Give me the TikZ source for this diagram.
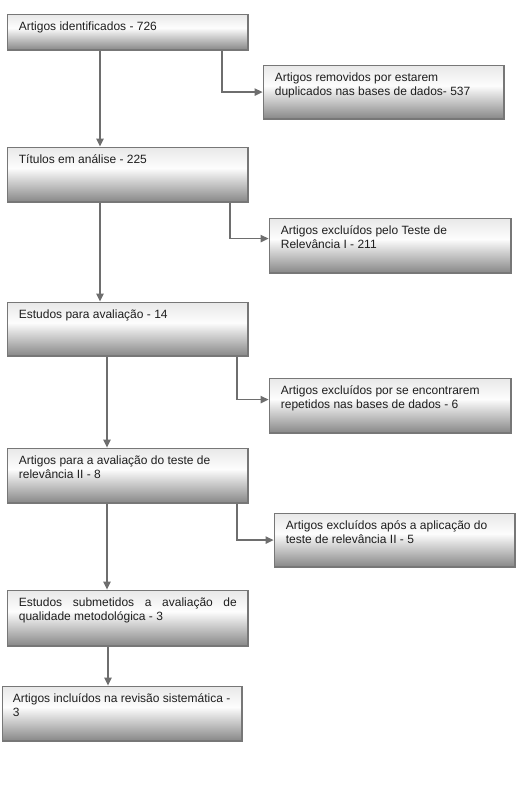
\documentclass[tikz,border=0pt]{standalone}
\usepackage{fontspec}
\setmainfont{Liberation Sans}
\usetikzlibrary{arrows.meta}
\definecolor{shtop}{HTML}{E8E8E8}
\definecolor{shmid}{HTML}{FDFDFD}
\definecolor{shbot}{HTML}{878787}
\definecolor{edge}{HTML}{777777}
\definecolor{conn}{HTML}{6E6E6E}
\definecolor{txt}{HTML}{1E1E1E}
\pgfdeclareverticalshading{boxshade}{100bp}{color(0bp)=(shbot); color(25bp)=(shbot); color(56bp)=(shmid); color(75bp)=(shtop); color(100bp)=(shtop)}
\tikzset{
  boxrect/.style={draw=edge, line width=0.9pt, shading=boxshade},
  boxtext/.style={anchor=north west, inner sep=0pt, align=left, text=txt,
    font=\fontsize{9}{10.5}\selectfont},
  arr/.style={draw=conn, line width=1.1pt, -{Triangle[length=6pt,width=5.5pt]}}
}
\newcommand{\mkbox}[5]{%
  \node[boxrect, anchor=north west, inner sep=0pt,
        minimum width=#3*0.75pt-0.9pt, minimum height=#4*0.75pt-0.9pt]
        (#5) at (#1*0.75pt+0.45pt,-#2*0.75pt-0.45pt) {};}
\begin{document}
\begin{tikzpicture}[x=0.75pt,y=-0.75pt]
\useasboundingbox (0,0) rectangle (516,787);
% boxes: x, y, w, h
\mkbox{6}{13}{242}{37}{b1}
\mkbox{262}{64}{242}{55}{b2}
\mkbox{6}{146}{242}{56}{b3}
\mkbox{268}{217}{243}{56}{b4}
\mkbox{6}{301}{242}{55}{b5}
\mkbox{268}{377}{243}{56}{b6}
\mkbox{6}{447}{242}{56}{b7}
\mkbox{273}{512}{242}{55}{b8}
\mkbox{6}{589}{242}{57}{b9}
\mkbox{1}{685}{241}{56}{b10}
% texts
\node[boxtext] (t1) at ([shift={(12,7.2)}]b1.north west) {\strut Artigos identificados - 726};
\node[boxtext] (t2) at ([shift={(12,7.2)}]b2.north west) {\strut Artigos removidos por estarem\\duplicados nas bases de dados- 537};
\node[boxtext] (t3) at ([shift={(12,7.2)}]b3.north west) {\strut Títulos em análise - 225};
\node[boxtext] (t4) at ([shift={(12,7.2)}]b4.north west) {\strut Artigos excluídos pelo Teste de\\Relevância I - 211};
\node[boxtext] (t5) at ([shift={(12,7.2)}]b5.north west) {\strut Estudos para avaliação - 14};
\node[boxtext] (t6) at ([shift={(12,7.2)}]b6.north west) {\strut Artigos excluídos por se encontrarem\\repetidos nas bases de dados - 6};
\node[boxtext] (t7) at ([shift={(12,7.2)}]b7.north west) {\strut Artigos para a avaliação do teste de\\relevância II - 8};
\node[boxtext] (t8) at ([shift={(12,7.2)}]b8.north west) {\strut Artigos excluídos após a aplicação do\\teste de relevância II - 5};
\node[boxtext] (t9) at ([shift={(12,7.2)}]b9.north west) {\strut\hbox to 163.5pt{Estudos\hfill submetidos\hfill a\hfill avaliação\hfill de}\\qualidade metodológica - 3};
\node[boxtext] (t10) at ([shift={(11,7.2)}]b10.north west) {\strut Artigos incluídos na revisão sistemática -\\3};
% x positions of connectors
\coordinate (m1) at (100,0);
\coordinate (m2) at (107,0);
\coordinate (m3) at (108,0);
\coordinate (s1) at (222,0);
\coordinate (s2) at (230,0);
\coordinate (s3) at (237,0);
% main flow
\draw[arr] (b1.south -| m1) -- (b3.north -| m1);
\draw[arr] (b3.south -| m1) -- (b5.north -| m1);
\draw[arr] (b5.south -| m2) -- (b7.north -| m2);
\draw[arr] (b7.south -| m2) -- (b9.north -| m2);
\draw[arr] (b9.south -| m3) -- (b10.north -| m3);
% side branches
\draw[arr] (b1.south -| s1) |- (b2.west);
\draw[arr] (b3.south -| s2) |- ([yshift=5.25pt]b4.west);
\draw[arr] (b5.south -| s3) |- ([yshift=4.5pt]b6.west);
\draw[arr] (b7.south -| s3) |- (b8.west);
\end{tikzpicture}
\end{document}
